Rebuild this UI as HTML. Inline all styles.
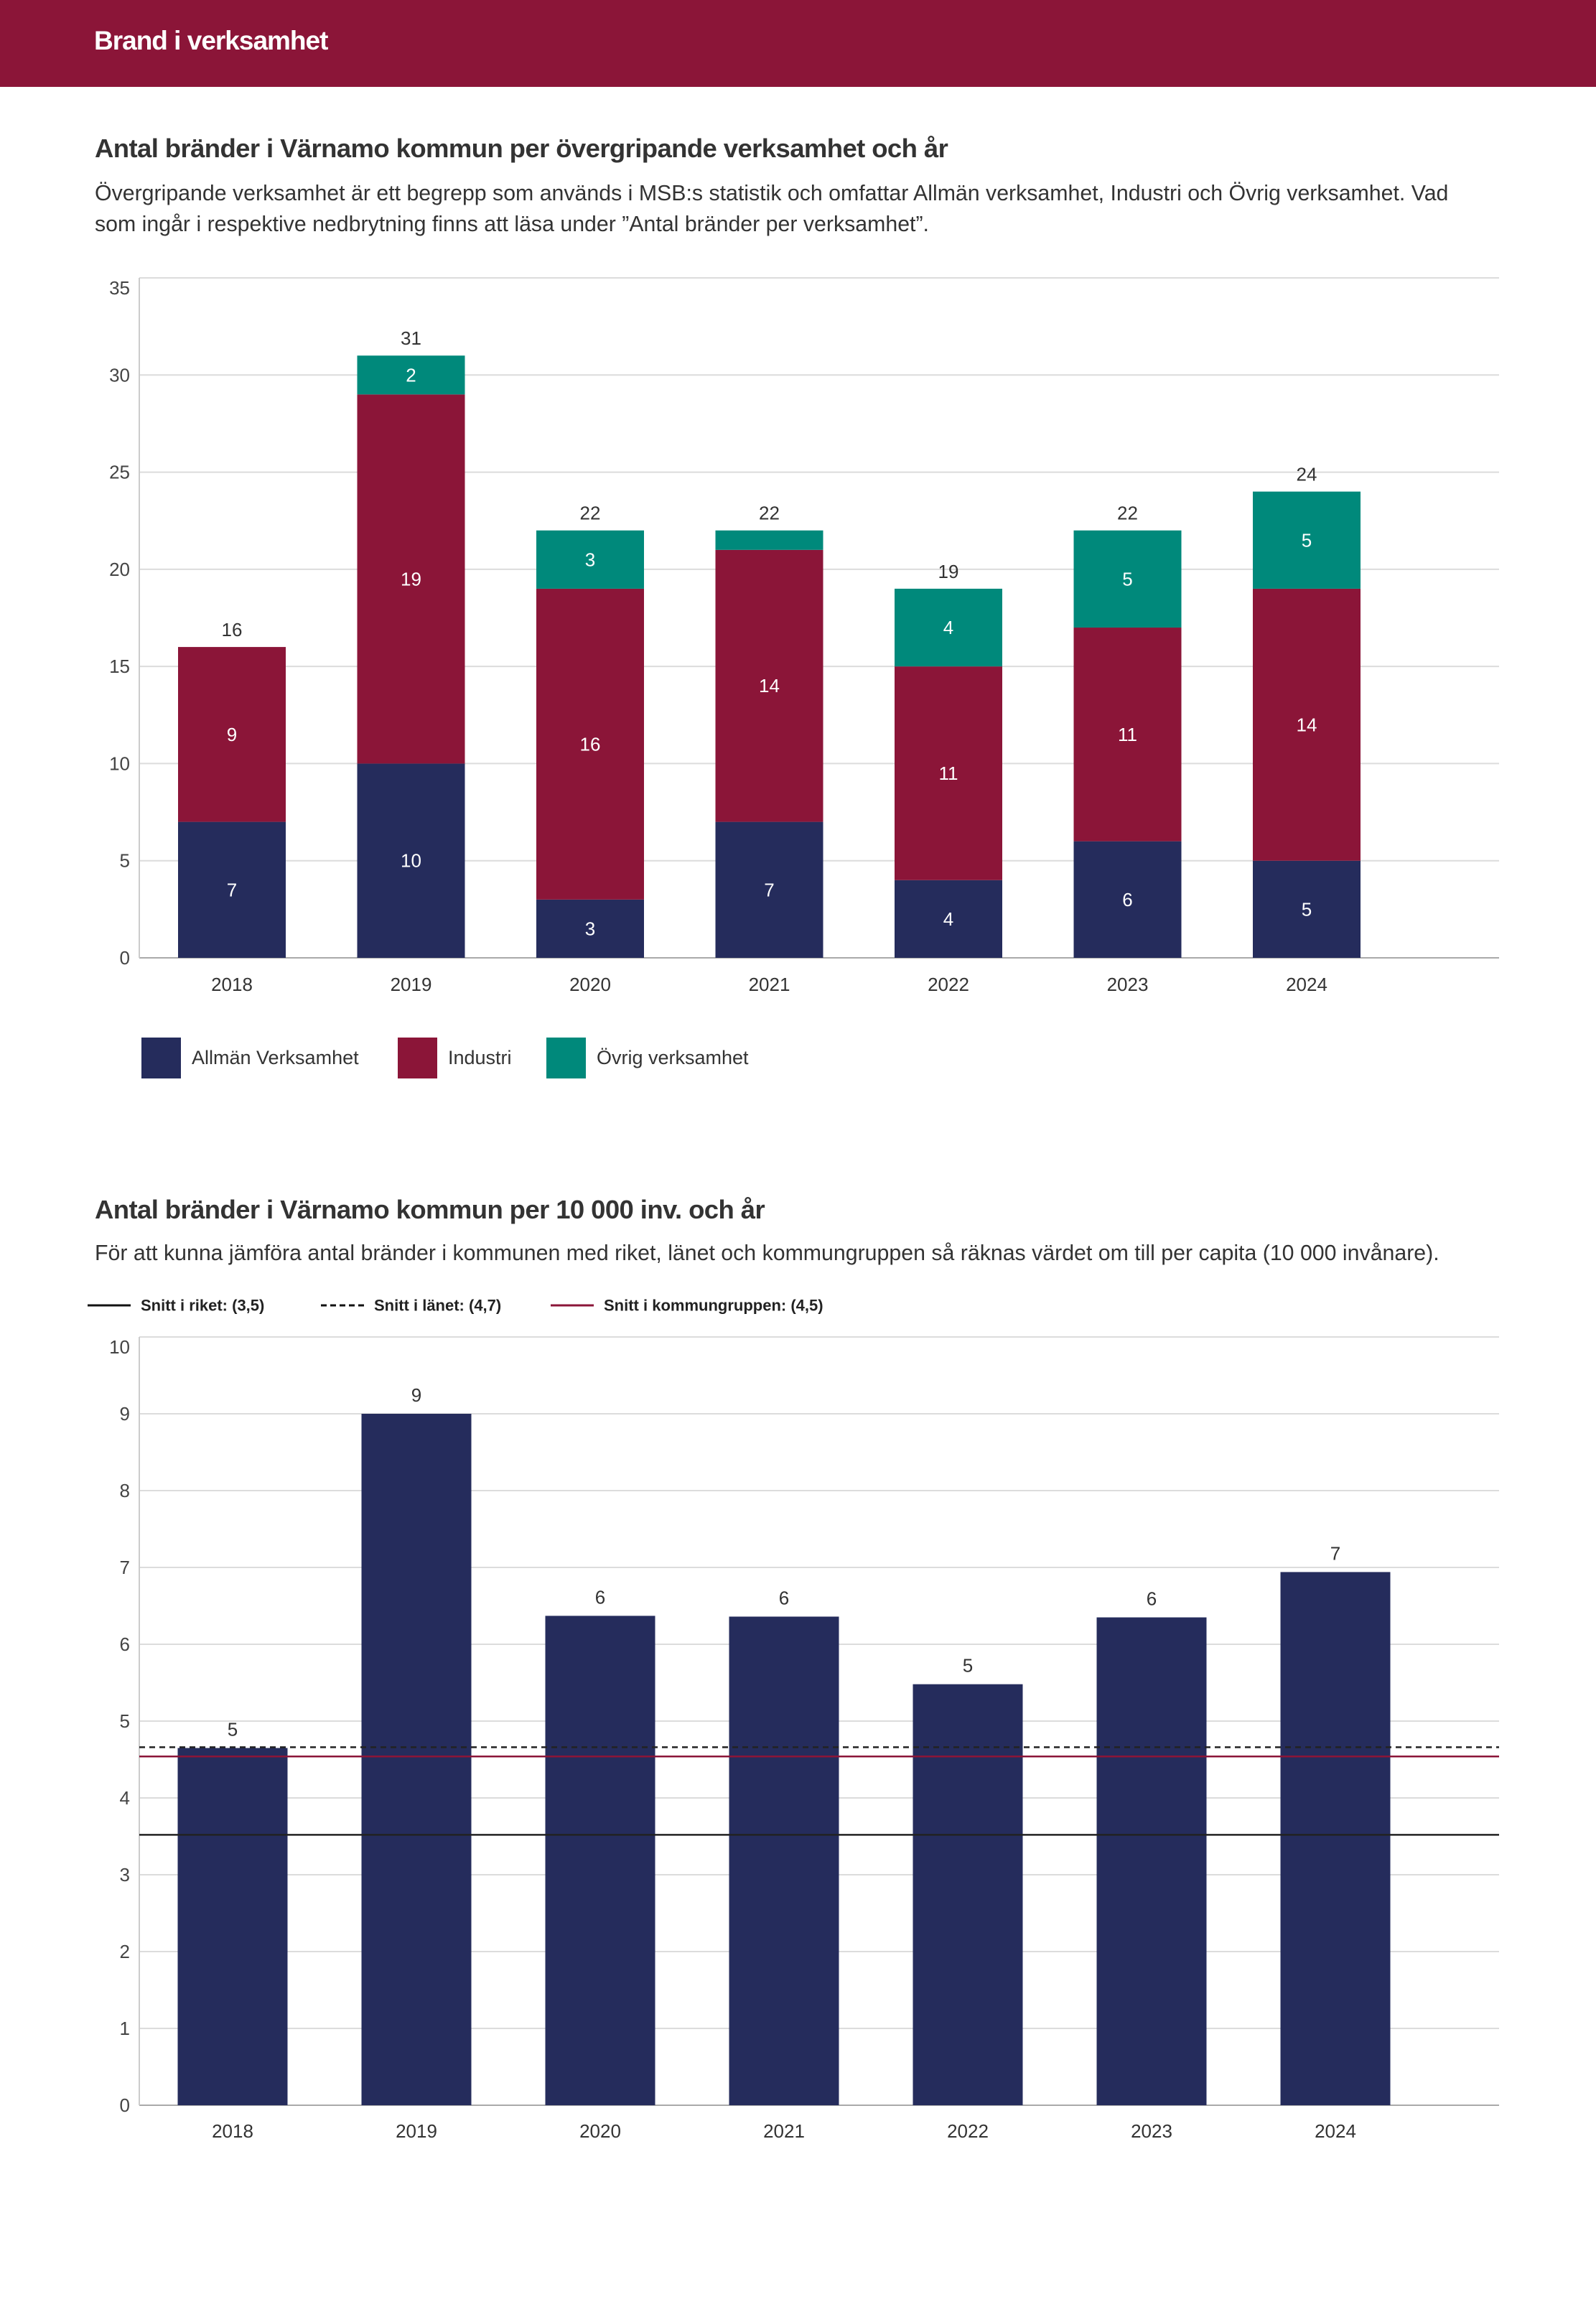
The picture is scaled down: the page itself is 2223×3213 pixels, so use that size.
<!DOCTYPE html>
<html><head><meta charset="utf-8">
<style>
html,body{margin:0;padding:0;background:#fff;}
body{width:2223px;height:3213px;position:relative;overflow:hidden;font-family:"Liberation Sans",sans-serif;color:#333;}
.hdr{position:absolute;left:0;top:0;width:2223px;height:121px;background:#8b1538;}
.hdr span{position:absolute;left:131px;top:36px;font-size:37px;font-weight:bold;color:#fff;letter-spacing:-1px;}
.t{position:absolute;left:132px;font-size:36.5px;font-weight:bold;color:#333;letter-spacing:-0.6px;white-space:nowrap;}
.s{position:absolute;left:132px;font-size:30.3px;color:#333;line-height:43px;width:2080px;white-space:nowrap;}
svg{position:absolute;left:0;top:0;}
svg text{font-family:"Liberation Sans",sans-serif;}
</style></head><body>
<div class="hdr"><span>Brand i verksamhet</span></div>
<div class="t" style="top:186px">Antal bränder i Värnamo kommun per övergripande verksamhet och år</div>
<div class="s" style="top:248px">Övergripande verksamhet är ett begrepp som används i MSB:s statistik och omfattar Allmän verksamhet, Industri och Övrig verksamhet. Vad<br>som ingår i respektive nedbrytning finns att läsa under ”Antal bränder per verksamhet”.</div>
<div class="t" style="top:1664px">Antal bränder i Värnamo kommun per 10 000 inv. och år</div>
<div class="s" style="top:1724px">För att kunna jämföra antal bränder i kommunen med riket, länet och kommungruppen så räknas värdet om till per capita (10 000 invånare).</div>
<svg id="c" width="2223" height="3213"></svg>
<script>
const years=["2018","2019","2020","2021","2022","2023","2024"];
const allman=[7,10,3,7,4,6,5];
const industri=[9,19,16,14,11,11,14];
const ovrig=[0,2,3,1,4,5,5];
const ticks1=[0,5,10,15,20,25,30,35];
const perCapita=[4.65,9.0,6.37,6.36,5.48,6.35,6.94];
const perCapitaLabels=["5","9","6","6","5","6","7"];
const ticks2=[0,1,2,3,4,5,6,7,8,9,10];
const avgRiket=[3.52];
const avgLanet=[4.66];
const avgGrupp=[4.54];

const NS="http://www.w3.org/2000/svg";
const svg=document.getElementById('c');
function mk(tag,attrs,parent){const e=document.createElementNS(NS,tag);for(const k in attrs)e.setAttribute(k,attrs[k]);(parent||svg).appendChild(e);return e;}
function txt(x,y,s,size,fill,anchor,parent){const e=mk('text',{x:x,y:y,'font-size':size,fill:fill,'text-anchor':anchor||'middle','dominant-baseline':'central'},parent);e.textContent=s;return e;}

// chart 1
const L=194,R=2088;
const y1=v=>1334-(v/35)*(1334-387);
const x1=i=>323+i*249.5;
const bw1=150;
const g1=mk('g',{});


ticks1.forEach(t=>{
  const l=mk('line',{x1:L,x2:R,y1:y1(t),y2:y1(t),stroke:t===0?'#aaa':'#dcdcdc','stroke-width':2},g1);
  
  
  const tx=txt(181,y1(t)+(t===35?14:0),String(t),26,'#444','end',g1);
  
  
});
mk('line',{x1:L,x2:L,y1:387,y2:1334,stroke:'#ccc','stroke-width':2},g1);
const cols=['#252c5c','#8b1538','#00897b'];
years.forEach((yr,i)=>{
  const series=[allman[i],industri[i],ovrig[i]];
  let base=0;
  series.forEach((v,k)=>{
    if(v<=0)return;
    const r=mk('rect',{x:x1(i)-bw1/2,y:y1(base+v),width:bw1,height:y1(base)-y1(base+v),fill:cols[k]},g1);
    
    
    if(v>=2){const t=txt(x1(i),(y1(base)+y1(base+v))/2,String(v),26,'#fff','middle',g1);
      
      }
    base+=v;
  });
  const tt=txt(x1(i),y1(base)-24,String(base),26,'#333','middle',g1);
  
  
  const xl=txt(x1(i),1371,yr,26,'#333','middle',g1);
  
  
});
const legNames=['Allmän Verksamhet','Industri','Övrig verksamhet'];
const legX=[197,554,761];
legNames.forEach((n,k)=>{
  const g=mk('g',{},g1);
  
  
  mk('rect',{x:legX[k],y:1445,width:55,height:57,fill:cols[k]},g);
  txt(legX[k]+70,1473,n,27,'#333','start',g);
});

// chart 2
const y2=v=>2932-(v/10)*(2932-1862);
const x2=i=>324+i*256;
const bw2=153;
const g2=mk('g',{});


ticks2.forEach(t=>{
  const l=mk('line',{x1:L,x2:R,y1:y2(t),y2:y2(t),stroke:t===0?'#aaa':'#dcdcdc','stroke-width':2},g2);
  
  
  const tx=txt(181,y2(t)+(t===10?14:0),String(t),26,'#444','end',g2);
  
  
});
mk('line',{x1:L,x2:L,y1:1862,y2:2932,stroke:'#ccc','stroke-width':2},g2);
years.forEach((yr,i)=>{
  const r=mk('rect',{x:x2(i)-bw2/2,y:y2(perCapita[i]),width:bw2,height:y2(0)-y2(perCapita[i]),fill:'#252c5c'},g2);
  
  
  const t=txt(x2(i),y2(perCapita[i])-26,perCapitaLabels[i],26,'#333','middle',g2);
  
  
  const xl=txt(x2(i),2968,yr,26,'#333','middle',g2);
  
  
});
const lr=mk('line',{x1:L,x2:R,y1:y2(avgRiket[0]),y2:y2(avgRiket[0]),stroke:'#222','stroke-width':2.5},g2);


const ll=mk('line',{x1:L,x2:R,y1:y2(avgLanet[0]),y2:y2(avgLanet[0]),stroke:'#222','stroke-width':2.5,'stroke-dasharray':'8,6'},g2);


const lg=mk('line',{x1:L,x2:R,y1:y2(avgGrupp[0]),y2:y2(avgGrupp[0]),stroke:'#8b1538','stroke-width':2.5},g2);


const leg2=[['Snitt i riket: (3,5)',122,'#111',''],['Snitt i länet: (4,7)',447,'#111','8,5'],['Snitt i kommungruppen: (4,5)',767,'#8b1538','']];
leg2.forEach((e,k)=>{
  const g=mk('g',{},g2);
  
  
  mk('line',{x1:e[1],x2:e[1]+60,y1:1818,y2:1818,stroke:e[2],'stroke-width':3,'stroke-dasharray':e[3]||'none'},g);
  const t=txt(e[1]+74,1818,e[0],22,'#222','start',g);
  t.setAttribute('font-weight','bold');
});
</script>
</body></html>
